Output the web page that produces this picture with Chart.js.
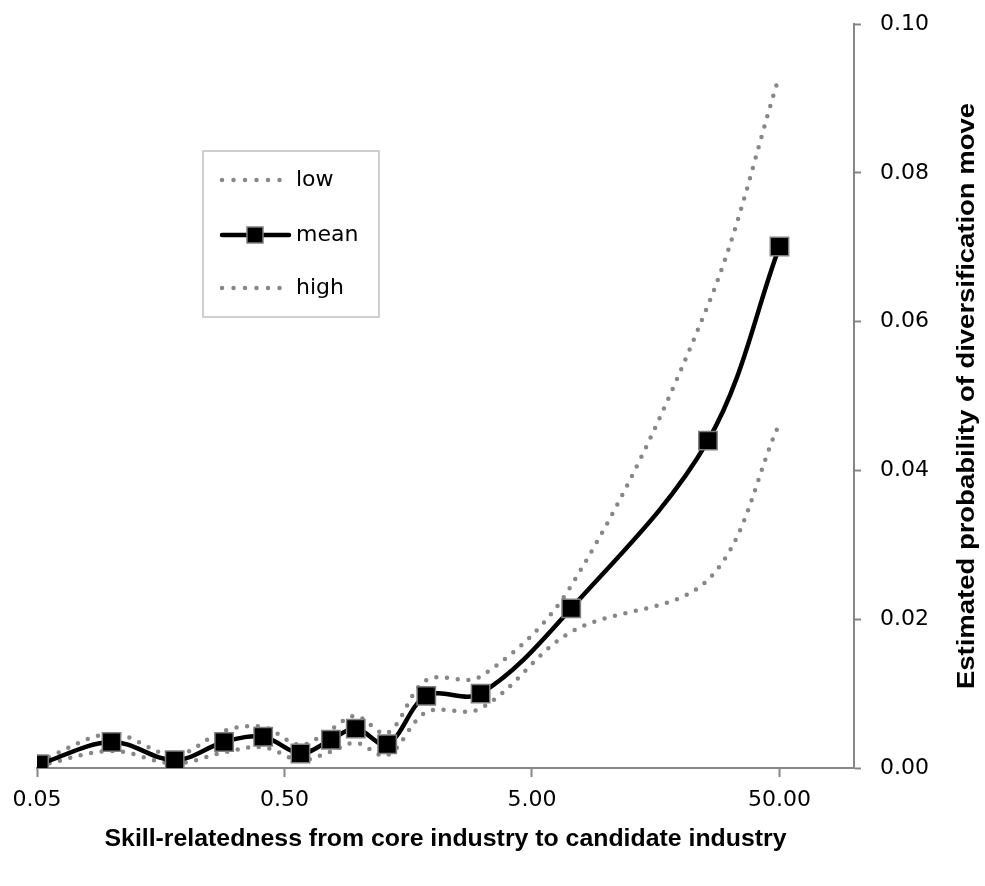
<!DOCTYPE html>
<html>
<head>
<meta charset="utf-8">
<script src="https://cdn.jsdelivr.net/npm/chart.js@4.4.1/dist/chart.umd.min.js"></script>
<style>
  html, body { margin: 0; padding: 0; background: #fff; }
  #wrap { width: 985px; height: 886px; }
</style>
</head>
<body>
<div id="wrap"><canvas id="c" width="985" height="886"></canvas></div>
<script>
const xVals = [0.051, 0.10, 0.18, 0.285, 0.41, 0.58, 0.77, 0.97, 1.3, 1.87, 3.1, 7.2, 25.7, 50];
const meanVals = [0.0005, 0.0035, 0.00105, 0.0035, 0.0042, 0.00195, 0.0038, 0.0053, 0.0032, 0.0097, 0.0100, 0.02145, 0.0440, 0.0701];
const highVals = [0.0009, 0.0046, 0.0017, 0.0050, 0.0055, 0.0031, 0.0052, 0.0070, 0.0047, 0.0118, 0.0123, 0.0245, 0.0622, 0.0931];
const lowVals = [0.0003, 0.0023, 0.0006, 0.0021, 0.0028, 0.00105, 0.0022, 0.0034, 0.0017, 0.0075, 0.0080, 0.0183, 0.0253, 0.0463];
const xTicks = [0.05, 0.5, 5, 50];

const X_TITLE = 'Skill-relatedness from core industry to candidate industry';
const Y_TITLE = 'Estimated probability of diversification move';

const AXIS = '#868686';
const DOT = '#878787';
const FONT = 'DejaVu Sans';

const pts = ys => xVals.map((x, i) => ({ x, y: ys[i] }));

// draws text squeezed/stretched to a given width
function fitText(ctx, s, x, y, w) {
  const m = ctx.measureText(s).width;
  ctx.save();
  ctx.translate(x, y);
  ctx.scale(w / m, 1);
  ctx.fillText(s, 0, 0);
  ctx.restore();
}

const titles = {
  id: 'titles',
  afterDraw(chart) {
    const ctx = chart.ctx;
    const a = chart.chartArea;
    ctx.save();
    ctx.fillStyle = '#000';
    ctx.font = 'bold 23px "Liberation Sans"';
    ctx.textAlign = 'center';
    ctx.textBaseline = 'middle';
    fitText(ctx, X_TITLE, (a.left + a.right) / 2, 840, 682);
    ctx.translate(968, (a.top + a.bottom) / 2);
    ctx.rotate(-Math.PI / 2);
    fitText(ctx, Y_TITLE, 0, 0, 586);
    ctx.restore();
  }
};

const legendBox = {
  id: 'legendBox',
  afterDraw(chart) {
    const ctx = chart.ctx;
    ctx.save();
    ctx.fillStyle = '#fff';
    ctx.strokeStyle = '#c0c0c0';
    ctx.lineWidth = 1.5;
    ctx.fillRect(203, 151, 176, 166);
    ctx.strokeRect(203, 151, 176, 166);

    const rows = [['low', 180], ['mean', 235], ['high', 288]];
    for (const [name, y] of rows) {
      ctx.beginPath();
      if (name === 'mean') {
        ctx.setLineDash([]);
        ctx.lineCap = 'round';
        ctx.strokeStyle = '#000';
        ctx.lineWidth = 4.5;
        ctx.moveTo(222, y);
        ctx.lineTo(289, y);
        ctx.stroke();
        ctx.fillStyle = '#000';
        ctx.fillRect(247, y - 8, 16, 16);
        ctx.strokeStyle = '#7f7f7f';
        ctx.lineWidth = 1.5;
        ctx.strokeRect(247, y - 8, 16, 16);
      } else {
        ctx.setLineDash([0, 11.5]);
        ctx.lineCap = 'round';
        ctx.strokeStyle = DOT;
        ctx.lineWidth = 4.5;
        ctx.moveTo(222, y);
        ctx.lineTo(281, y);
        ctx.stroke();
      }
      ctx.setLineDash([]);
      ctx.fillStyle = '#000';
      ctx.font = '22px "' + FONT + '"';
      ctx.textAlign = 'left';
      ctx.textBaseline = 'middle';
      ctx.fillText(name, 296, y);
    }
    ctx.restore();
  }
};

new Chart(document.getElementById('c'), {
  type: 'line',
  data: {
    datasets: [
      {
        label: 'mean',
        data: pts(meanVals),
        borderColor: '#000',
        borderWidth: 4.5,
        tension: 0.35,
        pointStyle: 'rect',
        pointRadius: 13,
        pointBackgroundColor: '#000',
        pointBorderColor: '#7f7f7f',
        pointBorderWidth: 1.5,
      },
      {
        label: 'low',
        data: pts(lowVals),
        borderColor: DOT,
        borderWidth: 4.5,
        borderDash: [0, 10.7],
        borderCapStyle: 'round',
        tension: 0.35,
        pointRadius: 0,
      },
      {
        label: 'high',
        data: pts(highVals),
        borderColor: DOT,
        borderWidth: 4.5,
        borderDash: [0, 10.7],
        borderCapStyle: 'round',
        tension: 0.35,
        pointRadius: 0,
      },
    ],
  },
  options: {
    responsive: false,
    animation: false,
    devicePixelRatio: 1,
    layout: { padding: { left: 37, top: 24, right: 0, bottom: 0 } },
    plugins: { legend: { display: false }, tooltip: { enabled: false } },
    scales: {
      x: {
        type: 'logarithmic',
        position: 'bottom',
        min: 0.05,
        max: 100,
        afterBuildTicks: s => { s.ticks = xTicks.map(v => ({ value: v })); },
        afterFit: s => { s.height = 118; s.paddingLeft = 0; s.paddingRight = 0; },
        ticks: {
          callback: v => Number(v).toFixed(2),
          color: '#000',
          font: { family: FONT, size: 22 },
          padding: 10,
          maxRotation: 0,
          autoSkip: false,
        },
        grid: { drawOnChartArea: false, tickLength: 9, tickColor: AXIS, tickWidth: 2 },
        border: { color: AXIS, width: 2 },
      },
      y: {
        position: 'right',
        min: 0,
        max: 0.1,
        afterFit: s => { s.width = 131; s.paddingTop = 0; s.paddingBottom = 0; },
        ticks: {
          stepSize: 0.02,
          callback: v => Number(v).toFixed(2),
          color: '#000',
          font: { family: FONT, size: 22 },
          padding: 19,
        },
        grid: { drawOnChartArea: false, tickLength: 7, tickColor: AXIS, tickWidth: 2 },
        border: { color: AXIS, width: 2 },
      },
    },
  },
  plugins: [titles, legendBox],
});
</script>
</body>
</html>
